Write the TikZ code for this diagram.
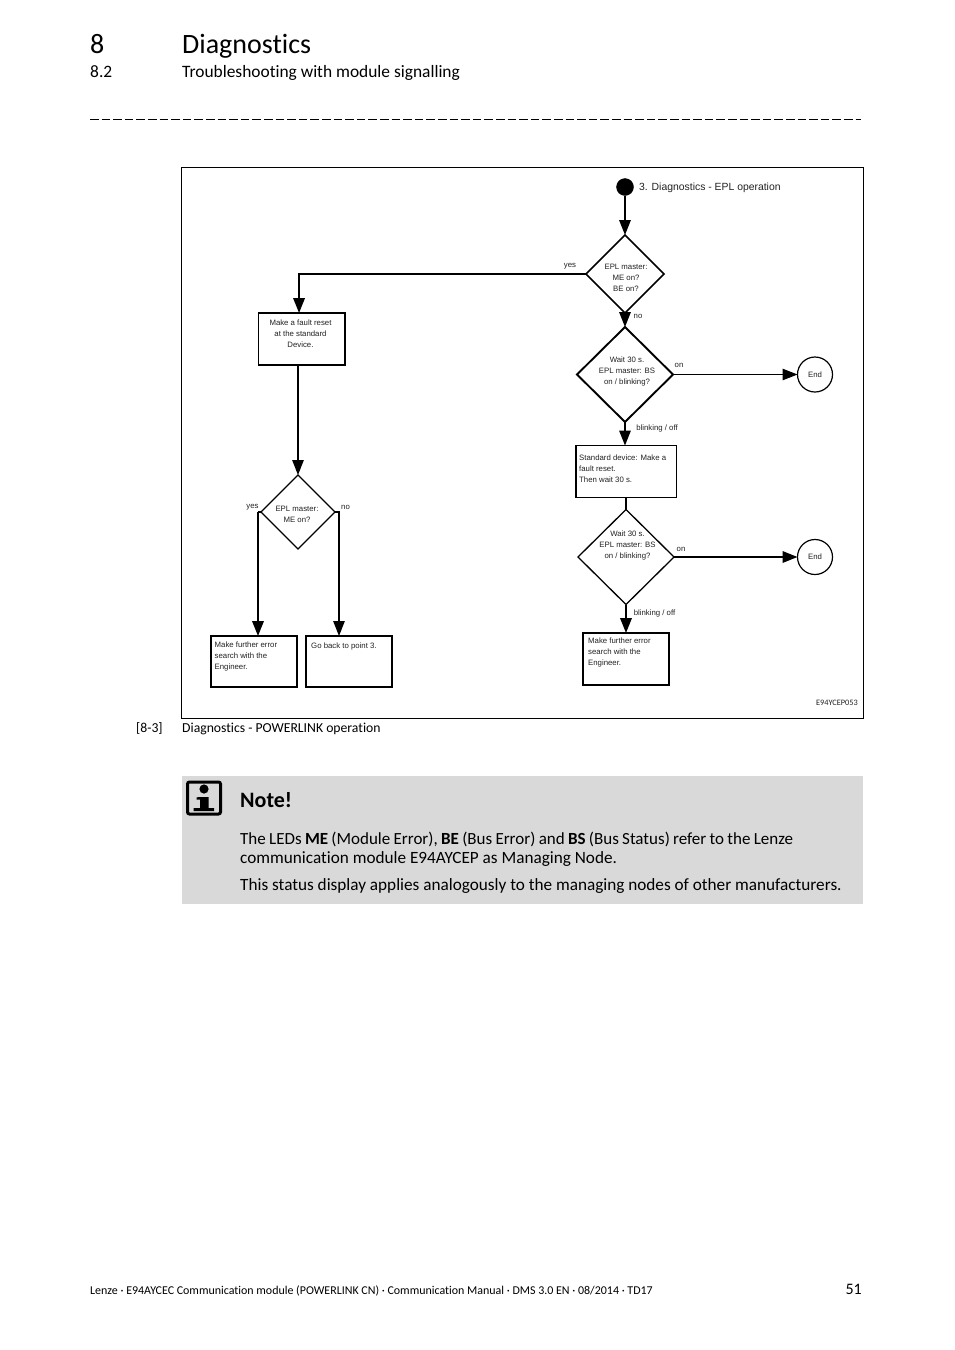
\documentclass[tikz,border=0pt]{standalone}
\usepackage{fontspec}
\setmainfont[Ligatures=NoCommon]{Carlito}
\newfontfamily\arialf{Liberation Sans}
\usetikzlibrary{shapes.geometric,arrows.meta,calc}
\definecolor{notegrey}{HTML}{D9D9D9}
\definecolor{txt}{HTML}{222222}
\tikzset{
  flow/.style={line width=1.6pt,-{Triangle[length=15pt,width=11.5pt]}},
  plain/.style={line width=1.6pt},
  dia/.style={draw,diamond,line width=1.5pt,inner sep=0pt,outer sep=0pt},
  box/.style={draw,rectangle,line width=1.6pt,inner sep=0pt,outer sep=0pt,anchor=north west},
  endc/.style={draw,circle,line width=1.2pt,inner sep=0pt,outer sep=0pt,font=\arialf\fontsize{7.8}{10}\selectfont,text=txt},
  lab/.style={inner sep=0pt,font=\arialf\fontsize{7.8}{11}\selectfont,text=txt},
  page/.style={inner sep=0pt,anchor=base west,text=black},
}
\begin{document}
\begin{tikzpicture}[x=1pt,y=-1pt]
\useasboundingbox (0,0) rectangle (954,1350);
\fill[white] (0,0) rectangle (954,1350);
% header
\node[page,font=\fontsize{28}{30}\selectfont] (chap) at (90,53) {8};
\node[page,font=\fontsize{28}{30}\selectfont] (title) at (182,53) {Diagnostics};
\node[page,font=\fontsize{17.4}{20}\selectfont] (sec) at (90,77) {8.2};
\node[page,font=\fontsize{17.4}{20}\selectfont] (sect) at (182,77) {Troubleshooting with module signalling};
\draw[line width=0.8pt,dash pattern=on 8.6pt off 3pt] (90,119.5) -- (861,119.5);
% frame
\draw[line width=1pt] (181.5,167.5) rectangle (863.5,718.5);
% nodes
\node[draw,fill=black,circle,minimum size=17pt,inner sep=0pt,outer sep=0pt] (start) at (625,187) {};
\node[inner sep=0pt,anchor=west,font=\arialf\fontsize{10.4}{13}\selectfont,text=txt] (ttl) at (639,187.5) {3. Diagnostics - EPL operation};
\node[dia,minimum width=78pt,minimum height=78pt] (d1) at (625,274) {};
\node[dia,line width=1.9pt,minimum width=96pt,minimum height=95pt] (d2) at (625,374.5) {};
\node[dia,line width=1.3pt,minimum width=96pt,minimum height=95pt] (d4) at (626,557) {};
\node[dia,line width=1.2pt,minimum width=74pt,minimum height=74pt] (d3) at (298,512) {};
\node[lab,align=center] (d1t) at (626,278) {EPL master:\\ME on?\\BE on?};
\node[lab,align=center] (d2t) at (627,371.5) {Wait 30 s.\\EPL master: BS\\on / blinking?};
\node[lab,align=center] (d4t) at (627.5,545.5) {Wait 30 s.\\EPL master: BS\\on / blinking?};
\node[lab,align=center] (d3t) at (297,514.5) {EPL master:\\ME on?};
\node[endc,minimum size=35pt] (e1) at (815,374.5) {End};
\node[endc,minimum size=35pt] (e2) at (815,557) {End};
\node[box,minimum width=86.5pt,minimum height=52pt] (b1) at (258.5,313) {};
\node[lab,align=center,anchor=north] (b1t) at (300.5,319.5) {Make a fault reset\\at the standard\\Device.};
\node[box,minimum width=100.5pt,minimum height=52pt] (b2) at (576,445.5) {};
\node[lab,align=left,anchor=north west] (b2t) at (579,454.5) {Standard device: Make a\\fault reset.\\Then wait 30 s.};
\node[box,minimum width=86pt,minimum height=51pt] (b3) at (211,636) {};
\node[lab,align=left,anchor=north west] (b3t) at (214.5,641.5) {Make further error\\search with the\\Engineer.};
\node[box,minimum width=86pt,minimum height=51pt] (b4) at (306,636) {};
\node[lab,align=left,anchor=north west] (b4t) at (311,642.5) {Go back to point 3.};
\node[box,minimum width=86pt,minimum height=52pt] (b5) at (583,633) {};
\node[lab,align=left,anchor=north west] (b5t) at (588,637.5) {Make further error\\search with the\\Engineer.};
% connectors
\draw[flow] (start) -- (d1.north);
\coordinate (b1in) at ($(b1.north)+(-2.7,0)$);
\draw[flow,line width=1.9pt] (d1.west) -- (d1.west -| b1in) -- (b1in);
\draw[flow] (d1.south) -- (d2.north);
\draw[flow,line width=1.2pt] (d2.east) -- (e1.west);
\draw[flow] (d2.south) -- (b2.north -| d2.south);
\draw[plain] (b2.south -| d4.north) -- (d4.north);
\draw[flow,line width=1.9pt] (d4.east) -- (e2.west);
\draw[flow,line width=1.9pt] (d4.south) -- (b5.north -| d4.south);
\draw[flow,line width=1.1pt] (b1.south -| d3.north) -- (d3.north);
\coordinate (lx) at (258,512);
\coordinate (rx) at (339,512);
\draw[flow,line width=1.9pt] (lx) -- (lx |- b3.north);
\draw[plain,line width=1.2pt] (d3.west) -- (lx);
\draw[flow,line width=1.1pt] (d3.east) -- (rx) -- (rx |- b4.north);
% labels
\node[lab] (ly1) at (570,266) {yes};
\node[lab] (ln1) at (638,316) {no};
\node[lab] (lo1) at (679,365) {on};
\node[lab] (lb1) at (657,428) {blinking / off};
\node[lab] (lo2) at (681,549) {on};
\node[lab] (lb2) at (654.5,613) {blinking / off};
\node[lab] (ly2) at (252.5,507.5) {yes};
\node[lab] (ln2) at (345.5,507.5) {no};
\node[inner sep=0pt,anchor=east,font=\fontsize{8.3}{10}\selectfont,text=txt] (code) at (858,702.5) {E94YCEP053};
% caption
\node[page,font=\fontsize{13.7}{15}\selectfont] (capn) at (136,732) {[8-3]};
\node[page,font=\fontsize{13.7}{15}\selectfont] (capt) at (182,732) {Diagnostics - POWERLINK operation};
% note
\fill[notegrey] (182,776) rectangle (863,904);
\draw[line width=3pt,rounded corners=2pt] (187.5,782) rectangle (220.5,814);
\fill (204,789) circle (4.6pt);
\fill (199,797) -- (208.5,797) -- (208.5,808) -- (214,808) -- (214,811) -- (193.5,811) -- (193.5,808) -- (200,808) -- (200,799.5) -- (196.5,799.5) -- (196.5,797.5) -- cycle;
\node[page,font=\bfseries\fontsize{22}{24}\selectfont] (note) at (240,807) {Note!};
\node[page,font=\fontsize{17}{20}\selectfont] (n1) at (240,844) {\spaceskip=3.3pt The LEDs \textbf{ME} (Module Error), \textbf{BE} (Bus Error) and \textbf{BS} (Bus Status) refer to the Lenze};
\node[page,font=\fontsize{17.2}{20}\selectfont] (n2) at (240,863) {communication module E94AYCEP as Managing Node.};
\node[page,font=\fontsize{17.2}{20}\selectfont] (n3) at (240,890) {This status display applies analogously to the managing nodes of other manufacturers.};
% footer
\node[page,font=\fontsize{11.95}{15}\selectfont] (foot) at (90,1294) {Lenze · E94AYCEC Communication module (POWERLINK CN) · Communication Manual · DMS 3.0 EN · 08/2014 · TD17};
\node[inner sep=0pt,anchor=base east,font=\fontsize{16}{18}\selectfont] (pg) at (862,1294) {51};
\end{tikzpicture}
\end{document}
